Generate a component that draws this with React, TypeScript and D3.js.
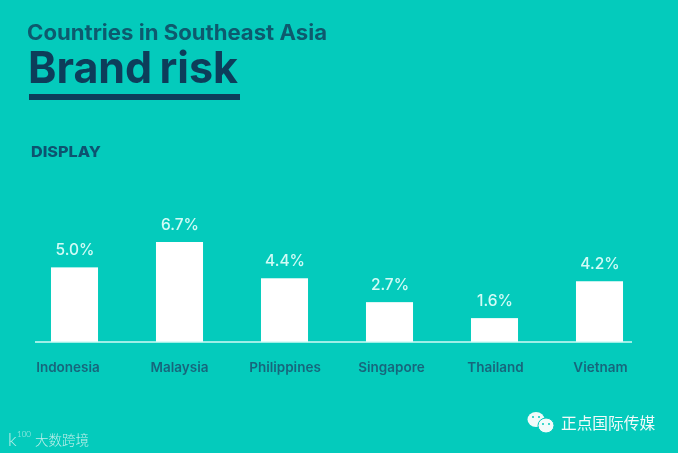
import React from "react";
import * as d3 from "d3";

const countries = ["Indonesia", "Malaysia", "Philippines", "Singapore", "Thailand", "Vietnam"];
const barValues = [5.0, 6.7, 4.27, 2.67, 1.6, 4.07];
const barLabels = ["5.0%", "6.7%", "4.4%", "2.7%", "1.6%", "4.2%"];
const labelShift = [-6.5, 0, 0.5, 2, 1, 1];
const subtitle = "Countries in Southeast Asia";
const title = "Brand risk";
const section = "DISPLAY";
const wmLeft = "大数跨境";
const wmRight = "正点国际传媒";

const W = 678, H = 453;
const BG = "#04CBBC", DARK = "#0C3C5A", LIGHT = "#D2FBF6";
const font = "Inter, Lato, sans-serif";

export default function App() {
  const x = d3.scaleBand<string>().domain(countries).range([22, 652]).paddingInner(0.552).paddingOuter(0.276);
  const y = d3.scaleLinear().domain([0, 6.7]).range([342, 242]);
  return (
    <svg width={W} height={H} viewBox={`0 0 ${W} ${H}`}
      style={{ position: "fixed", left: 0, top: 0, display: "block", background: BG }} fontFamily={font}>
      <defs>
        <filter id="soft" x="-5%" y="-5%" width="110%" height="110%"><feGaussianBlur stdDeviation="0.5" /></filter>
      </defs>
      <rect width={W} height={H} fill={BG} />
      <g filter="url(#soft)">
        <text x={27} y={40} fontSize={21} fontWeight={700} fill="#0E5A6E" textLength={300} lengthAdjust="spacingAndGlyphs">{subtitle}</text>
        <text x={28} y={83} fontSize={44} fontWeight={700} fill={DARK} textLength={210} lengthAdjust="spacingAndGlyphs" wordSpacing={-3}>{title}</text>
        <rect x={29} y={94} width={211} height={6} fill={DARK} />
        <text x={31} y={157} fontSize={14.5} fontWeight={800} fill="#0D5270" textLength={70} lengthAdjust="spacingAndGlyphs">{section}</text>
        {countries.map((c, i) => (
          <g key={c}>
            <rect x={x(c)} y={y(barValues[i])} width={x.bandwidth()} height={342 - y(barValues[i])} fill="#FFFFFF" />
            <text x={x(c)! + x.bandwidth() / 2 + 0.5} y={y(barValues[i]) - 12.5} textAnchor="middle" fontSize={15.5} fontWeight={500} fill={LIGHT}>
              {barLabels[i]}
            </text>
            <text x={x(c)! + x.bandwidth() / 2 + labelShift[i]} y={372} textAnchor="middle" fontSize={13.5} fontWeight={600} fill="#17667C">{c}</text>
          </g>
        ))}
        <line x1={35} x2={632} y1={342} y2={342} stroke={LIGHT} strokeWidth={1.6} />
      </g>
      <g filter="url(#soft)">
        <text x={8} y={446} fontSize={18} fontWeight={300} fill="#BFEFEA" fontFamily="Lato, sans-serif">k</text>
        <text x={17} y={437} fontSize={8} fontWeight={300} fill="#BFEFEA" fontFamily="Lato, sans-serif">100</text>
        <text x={35} y={445} fontSize={13.5} fontWeight={300} fill="#BFEFEA" fontFamily="'Noto Sans CJK SC'">{wmLeft}</text>
        <ellipse cx={536} cy={419.5} rx={8.5} ry={7.5} fill="#F2FBFA" />
        <ellipse cx={546} cy={425.5} rx={8} ry={7.5} fill="#F2FBFA" stroke={BG} strokeWidth={1} />
        <circle cx={533} cy={417} r={1} fill={BG} />
        <circle cx={539} cy={417} r={1} fill={BG} />
        <circle cx={543} cy={424} r={1} fill={BG} />
        <circle cx={549} cy={424} r={1} fill={BG} />
        <text x={561} y={429} fontSize={15.7} fill="#F2FBFA" fontFamily="'Noto Sans CJK SC'">{wmRight}</text>
      </g>
    </svg>
  );
}
